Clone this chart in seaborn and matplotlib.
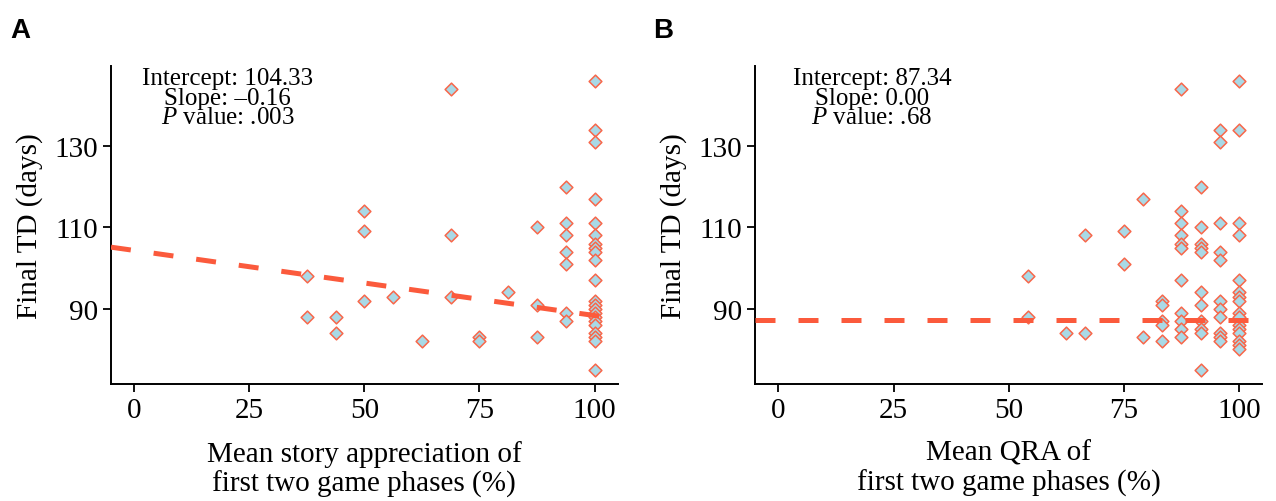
import numpy as np
import pandas as pd
import matplotlib
matplotlib.use('Agg')
import matplotlib.pyplot as plt
import seaborn as sns

# panel A: mean story appreciation (%) vs final TD (days)
story_x = [100, 68.75, 100, 100, 93.75, 100, 50, 50, 68.75, 87.5,
           93.75, 93.75, 93.75, 93.75, 100, 100, 100, 100, 100, 100,
           100, 100, 100, 100, 100, 100, 100, 100, 100, 100,
           100, 100, 37.5, 37.5, 43.75, 43.75, 50, 56.25, 62.5, 68.75,
           75, 75, 81.25, 87.5, 87.5, 93.75, 93.75]
story_td = [146, 144, 134, 131, 120, 117, 114, 109, 108, 110,
            111, 108, 104, 101, 111, 108, 106, 105, 104, 102,
            97, 92, 91, 90, 89, 88, 87, 86, 84, 83,
            82, 75, 98, 88, 88, 84, 92, 93, 82, 93,
            83, 82, 94, 91, 83, 89, 87]
story_intercept = 104.33
story_slope = -0.16
story_p = ".003"

# panel B: mean QRA (%) vs final TD (days)
qra_x = ([100] * 16 + [95.83] * 11 + [91.67] * 11 + [87.5] * 11 +
         [83.33] * 5 + [79.17] * 2 + [75] * 2 + [66.67] * 2 + [62.5] + [54.17] * 2)
qra_td = ([146, 134, 111, 108, 97, 94, 93, 92, 89, 88, 86, 85, 84, 82, 81, 80] +
          [134, 131, 111, 104, 102, 92, 90, 88, 84, 83, 82] +
          [120, 110, 106, 105, 104, 94, 91, 87, 85, 84, 75] +
          [144, 114, 111, 108, 106, 105, 97, 89, 87, 85, 83] +
          [92, 91, 87, 86, 82] +
          [117, 83] +
          [109, 101] +
          [108, 84] +
          [84] +
          [98, 88])
qra_intercept = 87.34
qra_slope = 0.00
qra_p = ".68"

sns.set_style('ticks')
plt.rcParams['font.family'] = ['Liberation Serif', 'DejaVu Serif']
plt.rcParams['mathtext.fontset'] = 'custom'
plt.rcParams['mathtext.rm'] = 'Liberation Serif'
plt.rcParams['mathtext.it'] = 'Liberation Serif:italic'
for key in ['text.color', 'axes.labelcolor', 'xtick.color', 'ytick.color', 'axes.edgecolor']:
    plt.rcParams[key] = 'black'

face = '#a9d9e6'
edge = '#f8674a'
line_col = '#fb5a3c'

fig = plt.figure(figsize=(12.76, 5.02), dpi=100)
ax_a = fig.add_axes([0.087, 0.233, 0.397, 0.634])
ax_b = fig.add_axes([0.592, 0.233, 0.397, 0.634])

panels = [
    (ax_a, story_x, story_td, story_intercept, story_slope, '–0.16', story_p,
     'Mean story appreciation of\nfirst two game phases (%)', 'A'),
    (ax_b, qra_x, qra_td, qra_intercept, qra_slope, '0.00', qra_p,
     'Mean QRA of\nfirst two game phases (%)', 'B'),
]

xlim = (-5, 105)
for ax, xs, ys, icpt, slope, slope_txt, p_txt, xlabel, letter in panels:
    df = pd.DataFrame({'x': xs, 'td': ys})
    sns.scatterplot(data=df, x='x', y='td', ax=ax, marker='D', s=42,
                    color=face, edgecolor=edge, linewidth=1.1, zorder=2)
    fit_x = np.array(xlim)
    ax.plot(fit_x, icpt + slope * fit_x, color=line_col, lw=3.6,
            dashes=(4, 4.6), solid_capstyle='butt', dash_capstyle='butt', zorder=3)

    ax.set_xlim(*xlim)
    ax.set_ylim(71.5, 149.7)
    ax.set_xticks([0, 25, 50, 75, 100])
    ax.set_yticks([90, 110, 130])
    ax.tick_params(labelsize=21, length=6, width=1.3, colors='black')
    for side in ['left', 'bottom']:
        ax.spines[side].set_linewidth(1.4)
        ax.spines[side].set_color('black')
    sns.despine(ax=ax)
    ax.set_xlabel(xlabel, fontsize=21, labelpad=12, linespacing=1.15)
    ax.set_ylabel('Final TD (days)', fontsize=21, labelpad=8)

    ax.text(0.23, 0.962, f'Intercept: {icpt:.2f}', transform=ax.transAxes,
            ha='center', va='center', fontsize=18)
    ax.text(0.23, 0.900, f'Slope: {slope_txt}', transform=ax.transAxes,
            ha='center', va='center', fontsize=18)
    ax.text(0.23, 0.838, r'$P$' + f' value: {p_txt}', transform=ax.transAxes,
            ha='center', va='center', fontsize=18)

fig.text(0.008, 0.925, 'A', fontsize=20, fontweight='bold', family='Liberation Sans')
fig.text(0.512, 0.925, 'B', fontsize=20, fontweight='bold', family='Liberation Sans')

fig.savefig('out.png', dpi=100)
